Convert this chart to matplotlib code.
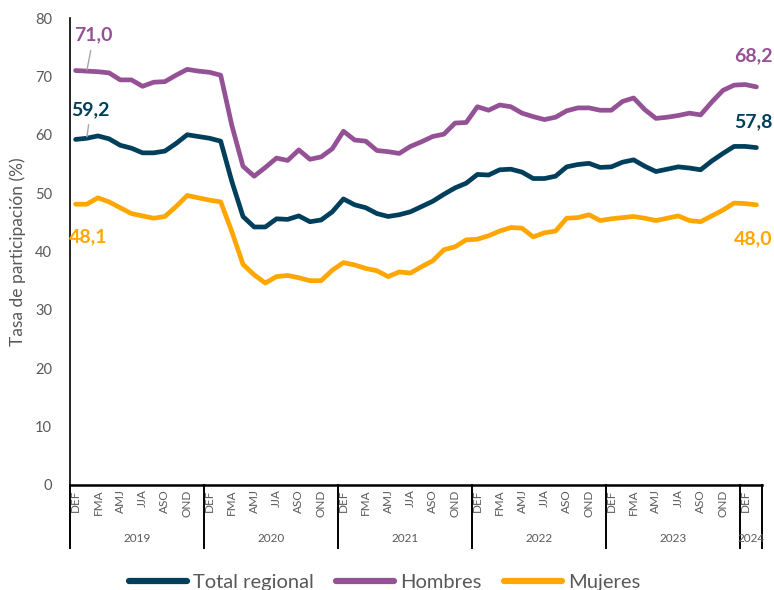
import numpy as np
import matplotlib
matplotlib.use("Agg")
import matplotlib.pyplot as plt
import matplotlib.transforms as mtransforms

plt.rcParams['font.family'] = ['Lato', 'DejaVu Sans']

# ---- data ----
trimestres = ["DEF", "EFM", "FMA", "MAM", "AMJ", "MJJ", "JJA", "JAS", "ASO", "SON", "OND", "NDE"]
years = ["2019", "2020", "2021", "2022", "2023", "2024"]
n_per_year = [12, 12, 12, 12, 12, 2]

total = [59.2, 59.4, 59.8, 59.3, 58.2, 57.7, 56.9, 56.9, 57.2, 58.5, 60.0, 59.7,
         59.4, 58.9, 52.0, 46.0, 44.2, 44.2, 45.6, 45.5, 46.1, 45.1, 45.4, 46.8,
         49.0, 48.0, 47.5, 46.5, 46.0, 46.3, 46.8, 47.7, 48.6, 49.8, 50.9, 51.7,
         53.2, 53.1, 54.0, 54.1, 53.6, 52.5, 52.5, 52.9, 54.5, 54.9, 55.1, 54.4,
         54.5, 55.3, 55.7, 54.6, 53.7, 54.1, 54.5, 54.3, 54.0, 55.5, 56.8, 58.0,
         58.0, 57.8]
hombres = [71.0, 70.9, 70.8, 70.6, 69.4, 69.4, 68.3, 69.0, 69.1, 70.2, 71.2, 70.9,
           70.7, 70.2, 61.6, 54.6, 52.9, 54.4, 56.0, 55.6, 57.4, 55.8, 56.2, 57.6,
           60.6, 59.1, 58.9, 57.3, 57.1, 56.8, 58.0, 58.8, 59.7, 60.1, 62.0, 62.1,
           64.8, 64.2, 65.1, 64.8, 63.7, 63.1, 62.6, 63.0, 64.1, 64.6, 64.6, 64.2,
           64.2, 65.7, 66.3, 64.3, 62.8, 63.0, 63.3, 63.7, 63.4, 65.6, 67.6, 68.5,
           68.6, 68.2]
mujeres = [48.1, 48.1, 49.2, 48.5, 47.5, 46.5, 46.1, 45.7, 46.0, 47.7, 49.6, 49.2,
           48.8, 48.5, 43.4, 37.8, 36.0, 34.6, 35.7, 35.9, 35.5, 35.0, 35.0, 36.8,
           38.1, 37.7, 37.1, 36.7, 35.7, 36.5, 36.3, 37.4, 38.4, 40.3, 40.8, 42.0,
           42.1, 42.7, 43.5, 44.1, 44.0, 42.5, 43.2, 43.5, 45.7, 45.8, 46.3, 45.3,
           45.6, 45.8, 46.0, 45.7, 45.3, 45.7, 46.1, 45.3, 45.1, 46.1, 47.1, 48.3,
           48.2, 48.0]

series_names = ["Total regional", "Hombres", "Mujeres"]
colors = ["#003f5c", "#955196", "#ffa600"]
gray = "#595959"

cat_labels = []
for n in n_per_year:
    cat_labels += trimestres[:n]
x = np.arange(len(cat_labels))

fig = plt.figure(figsize=(7.74, 5.90), dpi=100)
ax = fig.add_axes([70/774, 105/590, 692/774, 467/590])

lines = []
for vals, name, c in zip([total, hombres, mujeres], series_names, colors):
    ln, = ax.plot(x, vals, color=c, lw=3.4, solid_capstyle='round', solid_joinstyle='round', label=name)
    lines.append(ln)

ax.set_xlim(-0.5, len(x) - 0.5)
ax.set_ylim(0, 80)
ax.set_yticks(np.arange(0, 81, 10))
ax.tick_params(axis='y', length=0, pad=13, labelsize=10.5, labelcolor=gray)
ax.set_ylabel("Tasa de participación (%)", fontsize=12.5, color=gray, labelpad=6)

tick_idx = x[::2]
ax.set_xticks(tick_idx)
ax.set_xticklabels([cat_labels[i] for i in tick_idx], rotation=90, fontsize=8.5, color=gray)
ax.tick_params(axis='x', length=0, pad=3)

for s in ["top", "right"]:
    ax.spines[s].set_visible(False)
ax.spines["left"].set_color("black")
ax.spines["bottom"].set_color("black")
ax.spines["left"].set_linewidth(1.2)
ax.spines["bottom"].set_linewidth(1.8)

# multi-level year axis
trans = mtransforms.blended_transform_factory(ax.transData, ax.transAxes)
bounds = np.concatenate([[0], np.cumsum(n_per_year)]) - 0.5
sep_bottom = -(548 - 485) / 467
for b in bounds:
    ax.plot([b, b], [0, sep_bottom], transform=trans, color="black", lw=1.4, clip_on=False)
year_y = -(538 - 485) / 467
for k, yr in enumerate(years):
    ax.text((bounds[k] + bounds[k + 1]) / 2, year_y, yr, transform=trans,
            ha="center", va="center", fontsize=8.5, color=gray)

# data labels
lbl_kw = dict(textcoords="offset pixels", ha="center", va="center", fontsize=14, fontweight="bold")
ax.annotate("71,0", xy=(1, hombres[1]), xytext=(7, 36), color=colors[1],
            arrowprops=dict(arrowstyle="-", color="#a6a6a6", lw=1, shrinkA=3, shrinkB=1), **lbl_kw)
ax.annotate("59,2", xy=(1, total[1]), xytext=(4, 29), color=colors[0],
            arrowprops=dict(arrowstyle="-", color="#a6a6a6", lw=1, shrinkA=3, shrinkB=1), **lbl_kw)
ax.annotate("48,1", xy=(0, mujeres[0]), xytext=(13, -33), color=colors[2], **lbl_kw)
n = len(x) - 1
ax.annotate("68,2", xy=(n, hombres[n]), xytext=(-3, 31), color=colors[1], **lbl_kw)
ax.annotate("57,8", xy=(n, total[n]), xytext=(-3, 26), color=colors[0], **lbl_kw)
ax.annotate("48,0", xy=(n, mujeres[n]), xytext=(-3, -34), color=colors[2], **lbl_kw)

leg = fig.legend(handles=lines, loc="center", bbox_to_anchor=(0.497, 8/590), ncol=3,
                 frameon=False, fontsize=14.5, handlelength=2.9, columnspacing=1.1,
                 handletextpad=0.3)
for t in leg.get_texts():
    t.set_color(gray)
for h in leg.legend_handles:
    h.set_linewidth(4.5)

fig.savefig("out.png", dpi=100)
